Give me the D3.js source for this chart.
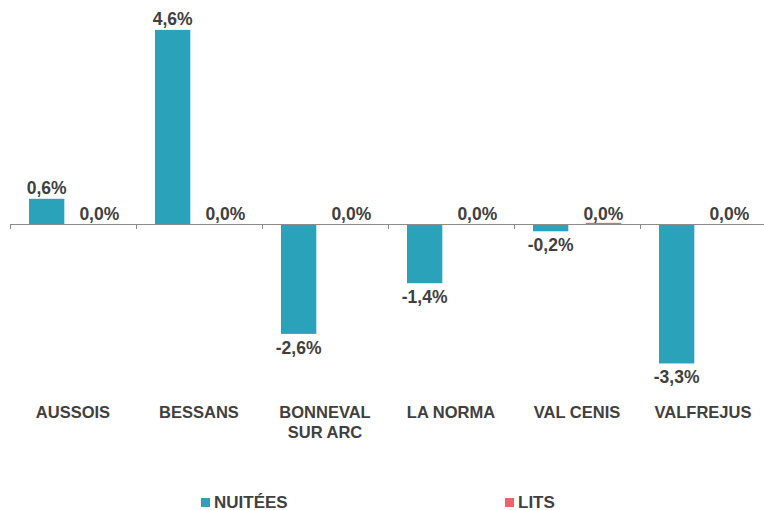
<!DOCTYPE html>
<html>
<head>
<meta charset="utf-8">
<script src="https://cdn.jsdelivr.net/npm/d3@7"></script>
<style>
 body { margin: 0; background: #fff; }
 text { font-family: "Liberation Sans", Arial, sans-serif; font-weight: bold; fill: #404040; }
</style>
</head>
<body>
<svg width="764" height="510"></svg>
<script>
// data
var stations = ["AUSSOIS", "BESSANS", "BONNEVAL SUR ARC", "LA NORMA", "VAL CENIS", "VALFREJUS"];
var series = ["NUITÉES", "LITS"];
var nuitees = [0.6, 4.6, -2.6, -1.4, -0.17, -3.3];
var lits = [0, 0, 0, 0, 0.03, 0];
var colors = ["#2aa2ba", "#f0626a"];

var svg = d3.select("svg");

var x0 = d3.scaleBand()
 .domain(stations)
 .range([10, 766]);

var x1 = d3.scaleBand()
 .domain(series)
 .range([19, 107])
 .paddingInner(0.33);

var y = d3.scaleLinear()
 .domain([-4, 5])
 .range([393, 13]);

var color = d3.scaleOrdinal().domain(series).range(colors);

var fmt = function(v) { return v.toFixed(1).replace(".", ",") + "%"; };

var rows = stations.map(function(s, i) {
  return { station: s, values: [
    { key: "NUITÉES", value: nuitees[i] },
    { key: "LITS", value: lits[i] }
  ]};
});

// bars
var groups = svg.append("g").selectAll("g")
 .data(rows)
 .enter().append("g")
 .attr("transform", function(d) { return "translate(" + x0(d.station) + ",0)"; });

groups.selectAll("rect")
 .data(function(d) { return d.values; })
 .enter().append("rect")
 .attr("x", function(d) { return x1(d.key); })
 .attr("width", x1.bandwidth())
 .attr("y", function(d) { return y(Math.max(0, d.value)); })
 .attr("height", function(d) { return Math.abs(y(d.value) - y(0)); })
 .attr("fill", function(d) { return color(d.key); });

// value labels
groups.selectAll("text")
 .data(function(d) { return d.values; })
 .enter().append("text")
 .attr("x", function(d) { return x1(d.key) + x1.bandwidth() / 2; })
 .attr("y", function(d) {
   if (d.value < 0) return y(d.value) + 20;
   if (d.value > 0.1) return y(d.value) - 5;
   return y(0) - 4;
 })
 .attr("text-anchor", "middle")
 .style("font-size", "17.5px")
 .text(function(d) { return fmt(d.value); });

// axis line + ticks at category boundaries
var axis = svg.append("g").attr("stroke", "#8c8c8c").attr("stroke-width", 1);
axis.append("line")
 .attr("x1", x0.range()[0]).attr("x2", x0.range()[1])
 .attr("y1", Math.round(y(0)) + 0.5).attr("y2", Math.round(y(0)) + 0.5);
axis.selectAll(".tick")
 .data(stations.map(function(s) { return x0(s); }).concat([x0.range()[1]]))
 .enter().append("line")
 .attr("x1", function(d) { return Math.round(d) + 0.5; })
 .attr("x2", function(d) { return Math.round(d) + 0.5; })
 .attr("y1", Math.round(y(0)))
 .attr("y2", Math.round(y(0)) + 5);

// category labels
var labels = svg.append("g").selectAll("text")
 .data(stations)
 .enter().append("text")
 .attr("x", function(d) { return x0(d) + x0.bandwidth() / 2; })
 .attr("y", 418)
 .attr("text-anchor", "middle")
 .style("font-size", "16.5px");

labels.each(function(d) {
  var words = d === "BONNEVAL SUR ARC" ? ["BONNEVAL", "SUR ARC"] : [d];
  var t = d3.select(this);
  words.forEach(function(w, i) {
    t.append("tspan")
     .attr("x", t.attr("x"))
     .attr("dy", i === 0 ? 0 : 20)
     .text(w);
  });
});

// legend
var legendX = [201, 505];
var legend = svg.append("g").selectAll("g")
 .data(series)
 .enter().append("g")
 .attr("transform", function(d, i) { return "translate(" + legendX[i] + ",498)"; });

legend.append("rect")
 .attr("width", 9).attr("height", 9)
 .attr("fill", function(d) { return color(d); });

legend.append("text")
 .attr("x", 13)
 .attr("y", 9.5)
 .style("font-size", "17px")
 .text(function(d) { return d; });
</script>
</body>
</html>
